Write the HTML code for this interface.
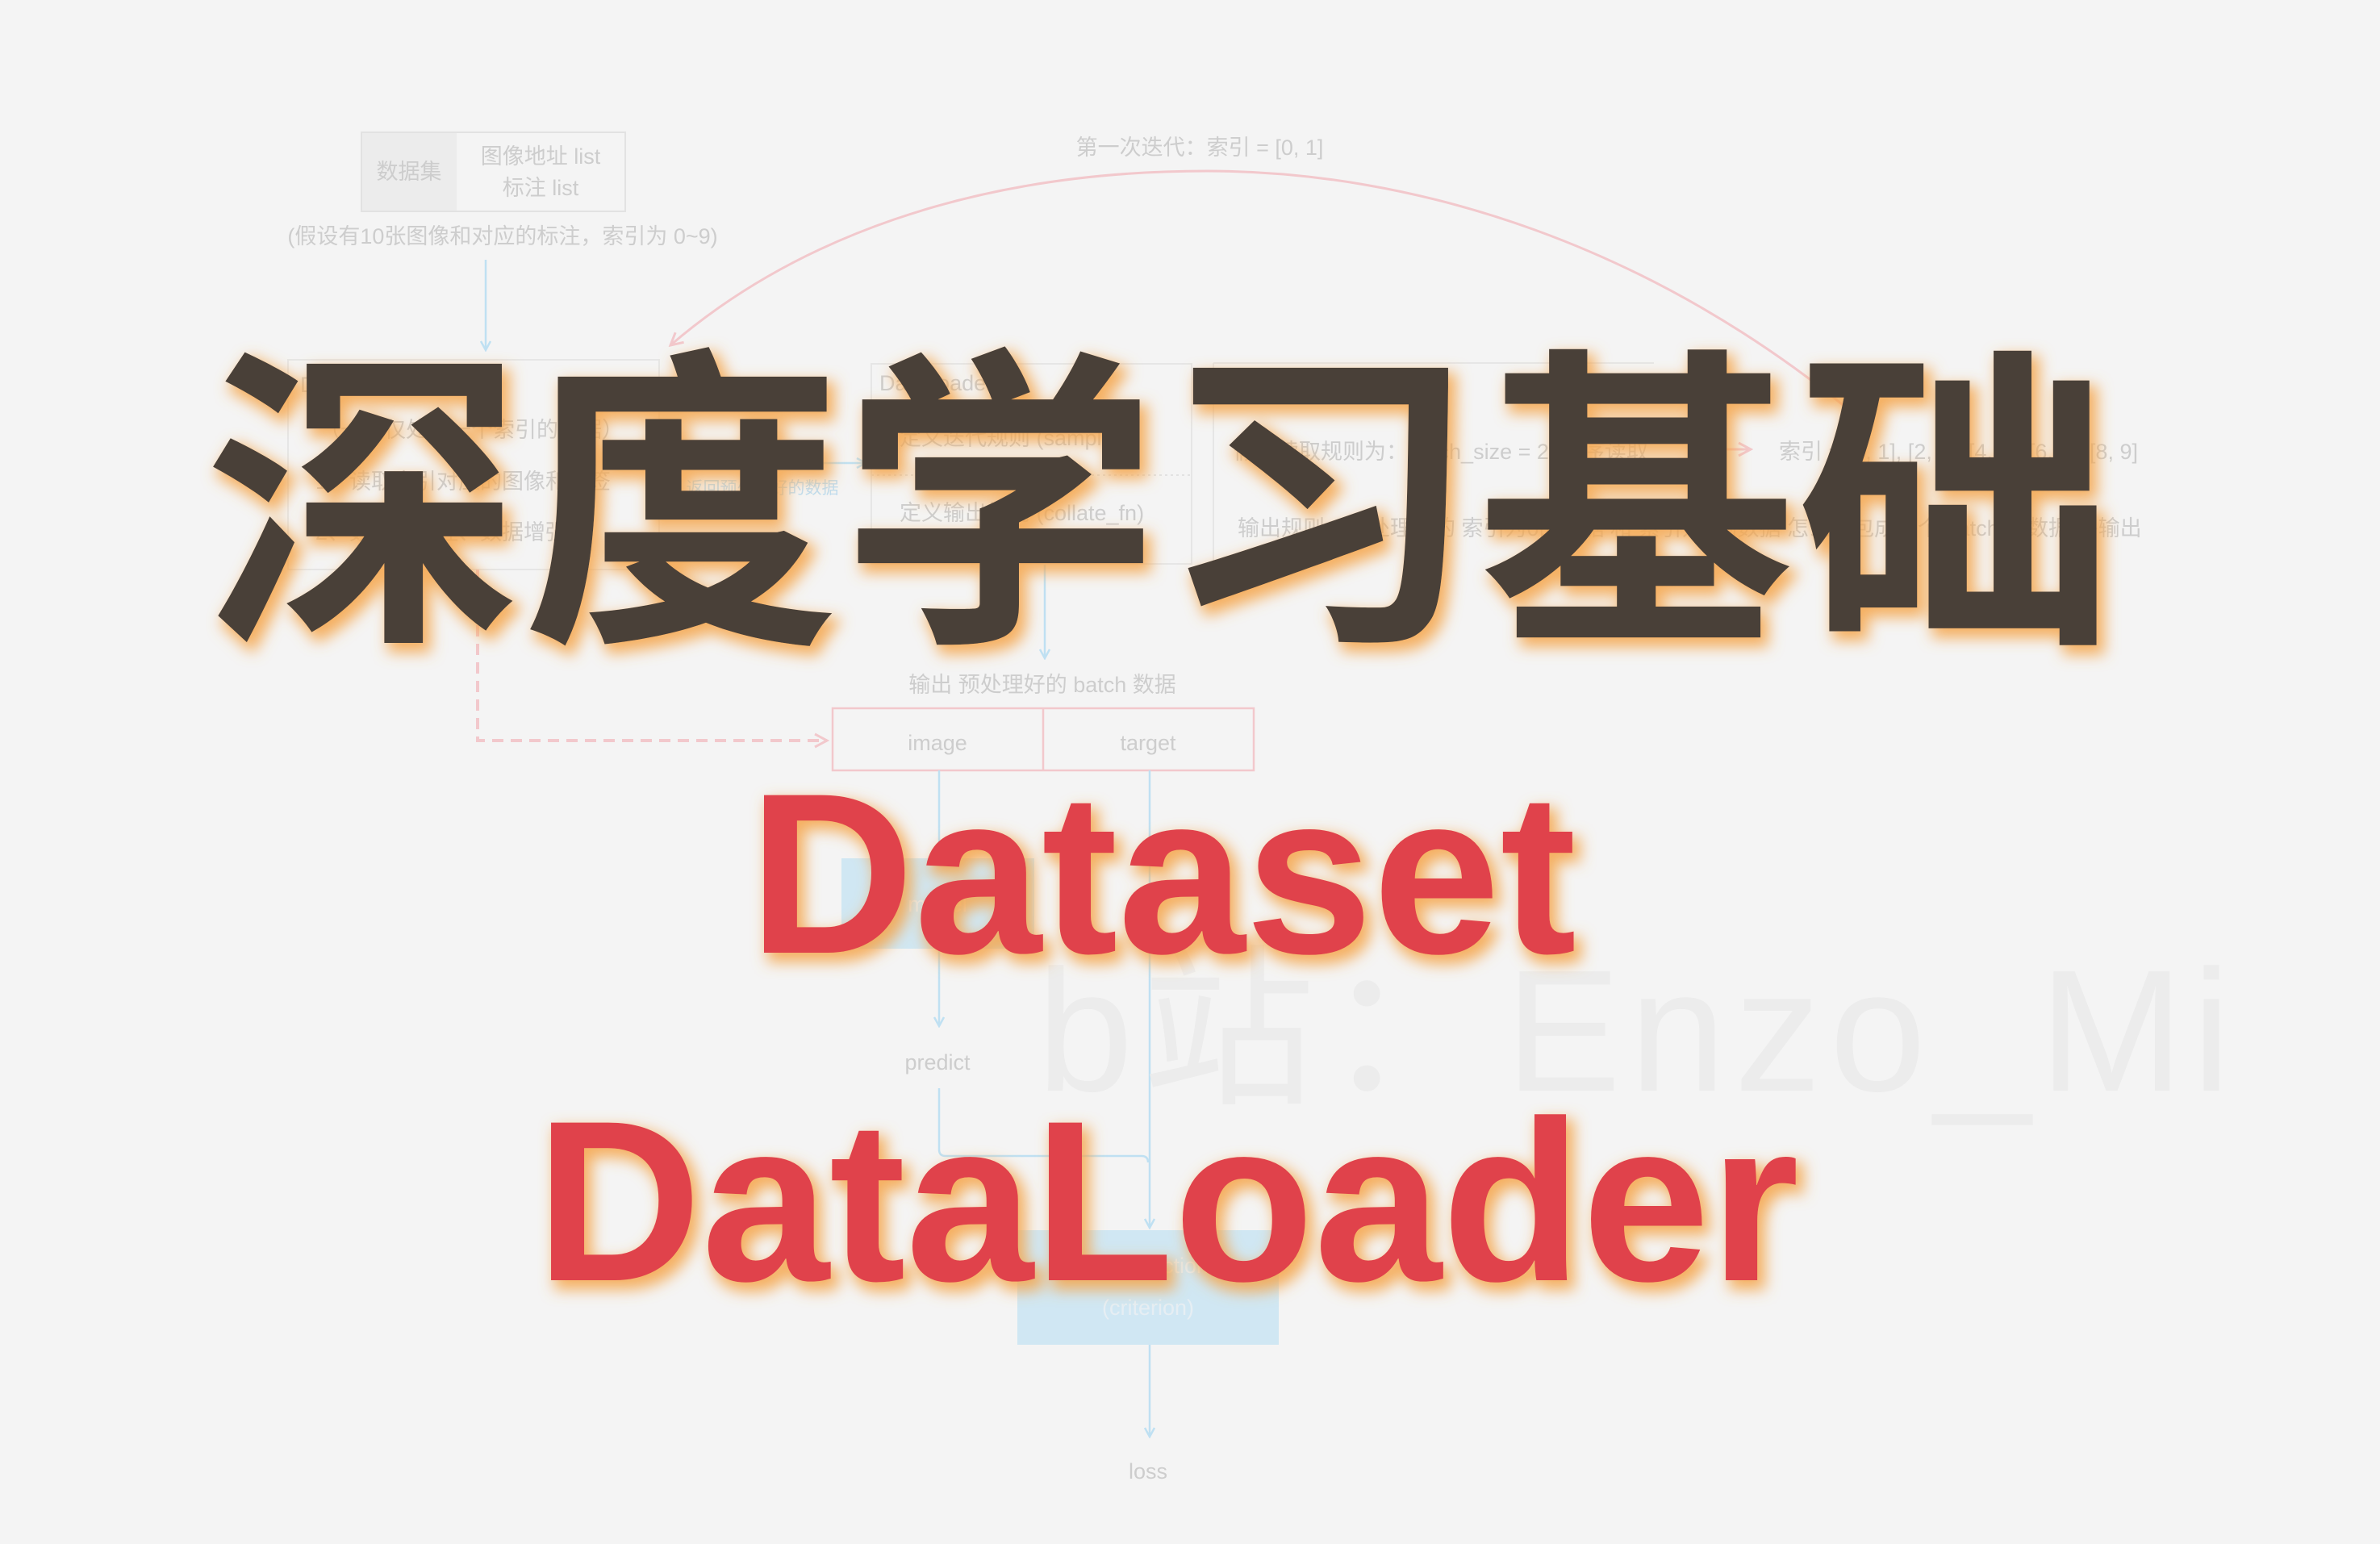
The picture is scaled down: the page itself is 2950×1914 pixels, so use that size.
<!DOCTYPE html>
<html><head><meta charset="utf-8"><style>
html,body{margin:0;padding:0;background:#f4f4f4;}
svg{display:block}
</style></head><body>
<svg width="2950" height="1914" viewBox="0 0 2950 1914" xmlns="http://www.w3.org/2000/svg">
<defs>
<filter id="glow" x="-10%" y="-20%" width="120%" height="140%">
<feMorphology in="SourceAlpha" operator="dilate" radius="3" result="d"/>
<feGaussianBlur in="d" stdDeviation="9" result="b"/>
<feOffset in="b" dx="7" dy="9" result="o"/>
<feFlood flood-color="#f5a448" flood-opacity="0.85"/>
<feComposite in2="o" operator="in" result="g"/>
<feMerge><feMergeNode in="g"/><feMergeNode in="SourceGraphic"/></feMerge>
</filter>
<marker id="ab" markerWidth="14" markerHeight="14" refX="12" refY="7" orient="auto" markerUnits="userSpaceOnUse"><path d="M1,1 L12,7 L1,13" fill="none" stroke="#bfe0f2" stroke-width="2.5"/></marker>
<marker id="ar" markerWidth="20" markerHeight="20" refX="17" refY="10" orient="auto" markerUnits="userSpaceOnUse"><path d="M2,2 L17,10 L2,18" fill="none" stroke="#f2c8cc" stroke-width="3"/></marker>
</defs>
<rect width="2950" height="1914" fill="#f4f4f4"/>
<g font-family="Liberation Sans, Noto Sans CJK SC, sans-serif" fill="#cdcdcd" font-size="27">
<rect x="448" y="164" width="327" height="98" fill="none" stroke="#e2e2e2" stroke-width="2"/>
<rect x="449" y="165" width="117" height="96" fill="#ececec"/>
<text x="507" y="222" text-anchor="middle">数据集</text>
<text x="670" y="203" text-anchor="middle">图像地址 list</text>
<text x="670" y="242" text-anchor="middle">标注 list</text>
<text x="623" y="302" text-anchor="middle">(假设有10张图像和对应的标注，索引为 0~9)</text>
<line x1="602" y1="322" x2="602" y2="434" stroke="#bfe0f2" stroke-width="2.5" marker-end="url(#ab)"/>
<rect x="357" y="446" width="460" height="260" fill="none" stroke="#e6e6e6" stroke-width="2"/>
<text x="372" y="486">Dataset</text>
<text x="395" y="542">（一次仅处理一个索引的数据）</text>
<text x="391" y="606">1、读取索引对应的图像和标签</text>
<text x="391" y="669">2、数据预处理、数据增强</text>
<line x1="817" y1="574" x2="1073" y2="574" stroke="#bfe0f2" stroke-width="2.5" marker-end="url(#ab)"/>
<text x="945" y="612" text-anchor="middle" font-size="21" fill="#bfdcef">返回预处理好的数据</text>
<rect x="1080" y="451" width="397" height="248" fill="none" stroke="#e6e6e6" stroke-width="2"/>
<text x="1090" y="484">DataLoader</text>
<text x="1115" y="552">定义迭代规则 (sampler)</text>
<line x1="1080" y1="589" x2="1477" y2="589" stroke="#e2e2e2" stroke-width="2" stroke-dasharray="3,4"/>
<text x="1115" y="645">定义输出规则 (collate_fn)</text>
<line x1="1504" y1="450" x2="2050" y2="450" stroke="#e6e6e6" stroke-width="2"/>
<line x1="1504" y1="450" x2="1504" y2="698" stroke="#e6e6e6" stroke-width="2"/>
<text x="1529" y="569">假设读取规则为：batch_size = 2, 顺序读取</text>
<line x1="2110" y1="557" x2="2170" y2="557" stroke="#f2c8cc" stroke-width="3" marker-end="url(#ar)"/>
<text x="2205" y="569">索引 = [0, 1], [2, 3], [4, 5], [6, 7], [8, 9]</text>
<text x="1534" y="664">输出规则：预处理好的 索引为0的数据 和 索引为1的数据 怎么打包成一个 batch 的数据 并输出</text>
<text x="1487" y="192" text-anchor="middle">第一次迭代：索引 = [0, 1]</text>
<path d="M2318,530 C2050,300 1750,212 1496,212 C1200,212 980,300 831,428" fill="none" stroke="#f2c8cc" stroke-width="3" marker-end="url(#ar)"/>
<path d="M592,706 L592,918 L1025,918" fill="none" stroke="#f2c8cc" stroke-width="4" stroke-dasharray="14,9" marker-end="url(#ar)"/>
<line x1="1295" y1="700" x2="1295" y2="816" stroke="#bfe0f2" stroke-width="2.5" marker-end="url(#ab)"/>
<text x="1292" y="858" text-anchor="middle">输出 预处理好的 batch 数据</text>
<rect x="1032" y="878" width="522" height="77" fill="none" stroke="#f2c8cc" stroke-width="2.5"/>
<line x1="1293" y1="878" x2="1293" y2="955" stroke="#f2c8cc" stroke-width="2.5"/>
<text x="1162" y="930" text-anchor="middle">image</text>
<text x="1423" y="930" text-anchor="middle">target</text>
<line x1="1164" y1="955" x2="1164" y2="1062" stroke="#bfe0f2" stroke-width="2.5" marker-end="url(#ab)"/>
<rect x="1043" y="1064" width="239" height="112" fill="#d0e7f3"/>
<text x="1162" y="1130" text-anchor="middle" fill="#e6eef3">model</text>
<line x1="1164" y1="1176" x2="1164" y2="1272" stroke="#bfe0f2" stroke-width="2.5" marker-end="url(#ab)"/>
<text x="1162" y="1326" text-anchor="middle">predict</text>
<path d="M1164,1349 L1164,1425 Q1164,1433 1172,1433 L1415,1433 Q1423,1433 1423,1441" fill="none" stroke="#bfe0f2" stroke-width="2.5"/>
<line x1="1425" y1="955" x2="1425" y2="1522" stroke="#bfe0f2" stroke-width="2.5" marker-end="url(#ab)"/>
<rect x="1261" y="1525" width="324" height="142" fill="#d0e7f3"/>
<text x="1423" y="1578" text-anchor="middle" fill="#e6eef3">loss function</text>
<text x="1423" y="1630" text-anchor="middle" fill="#e6eef3">(criterion)</text>
<line x1="1425" y1="1667" x2="1425" y2="1781" stroke="#bfe0f2" stroke-width="2.5" marker-end="url(#ab)"/>
<text x="1423" y="1833" text-anchor="middle">loss</text>
</g>
<text x="1285" y="1352" font-family="Liberation Sans, Noto Sans CJK SC, sans-serif" font-size="215" fill="#ececec" textLength="1480" lengthAdjust="spacing">b站：Enzo_Mi</text>
<text x="253" y="766" font-family="Liberation Sans, Noto Sans CJK SC, sans-serif" font-weight="bold" font-size="392" fill="#4a4139" filter="url(#glow)" textLength="2368" lengthAdjust="spacingAndGlyphs">深度学习基础</text>
<text x="928" y="1181" font-family="Liberation Sans, sans-serif" font-weight="bold" font-size="284" fill="#e0434b" filter="url(#glow)" textLength="1026" lengthAdjust="spacingAndGlyphs">Dataset</text>
<text x="664" y="1587" font-family="Liberation Sans, sans-serif" font-weight="bold" font-size="284" fill="#e0434b" filter="url(#glow)" textLength="1566" lengthAdjust="spacingAndGlyphs">DataLoader</text>
</svg>
</body></html>
